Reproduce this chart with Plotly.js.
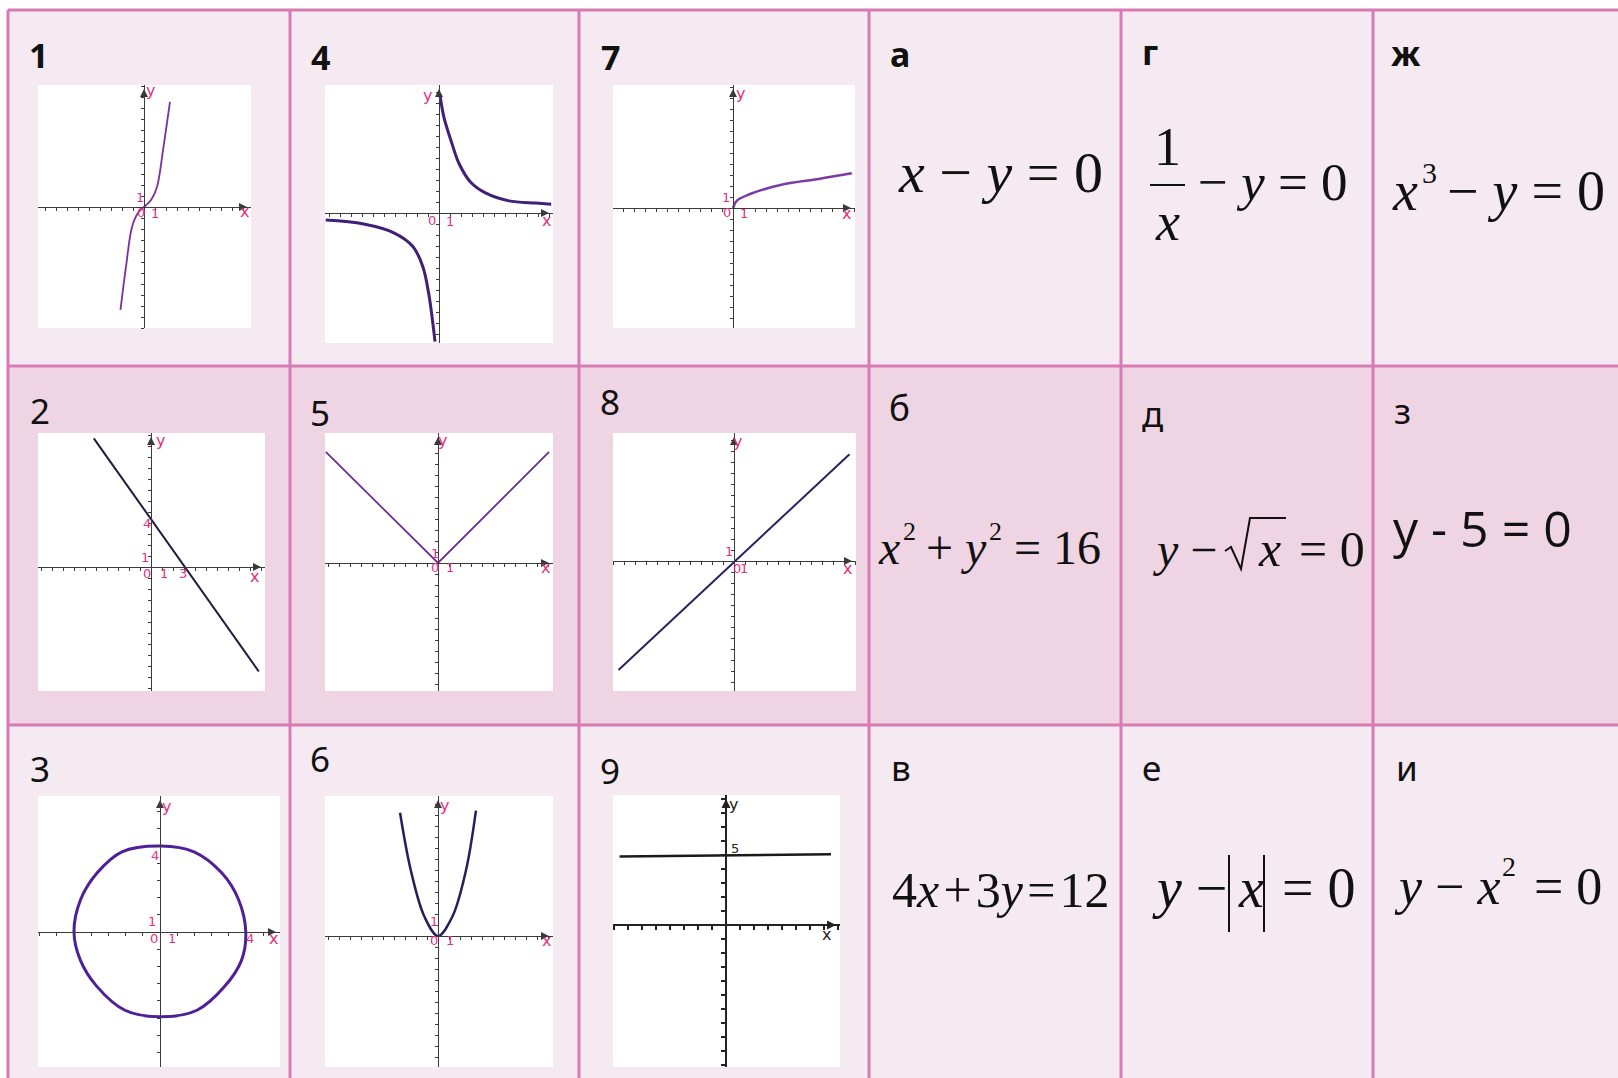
<!DOCTYPE html>
<html>
<head>
<meta charset="utf-8">
<script src="https://cdn.plot.ly/plotly-3.0.1.min.js"></script>
<style>
  html, body { margin: 0; padding: 0; background: #fff; }
  #chart { width: 1618px; height: 1078px; }
</style>
</head>
<body>
<div id="chart"></div>
<script>
const W = 1618, H = 1078;

/* Sketch data (units of each sketch) */
// 1: cubic
const g1x = [-2.14, -1.64, -1.09, -0.55, 0, 0.64, 1.18, 1.73, 2.36];
const g1y = [-9.36, -5.45, -1.82, -0.55, 0, 0.64, 1.82, 5.18, 9.55];
// 4: hyperbola, two branches
const g4ax = [0.09, 0.45, 1.15, 1.82, 2.88, 4.27, 6.36, 8.8, 10.2];
const g4ay = [10.7, 8.7, 6.4, 4.5, 2.8, 1.8, 1.1, 0.9, 0.8];
const g4bx = [-10.3, -6.85, -4.1, -2.36, -1.46, -0.94, -0.6, -0.36];
const g4by = [-0.64, -1.0, -1.8, -3.06, -4.9, -7.3, -9.7, -11.7];
// 7: square root
const g7x = [0, 0.35, 1.56, 4.7, 7.8, 10.8];
const g7y = [0, 0.67, 1.27, 2.18, 2.64, 3.15];
// 2: straight line 4x + 3y = 12
const g2x = [-5.2, 9.8];
const g2y = [11.7, -9.5];
// 5: |x|
const g5x = [-10.2, 0, 10.1];
const g5y = [10.1, 0, 10.1];
// 8: y = x
const g8x = [-10.5, 10.5];
const g8y = [-9.9, 9.7];
// 3: circle of radius 4
const g3x = [0.05, 1.58, 2.88, 3.66, 3.99, 3.79, 3.0, 1.72, 0.05, -1.63, -2.93, -3.7, -4.0, -3.7, -2.93, -1.77, 0.05];
const g3y = [4.0, 3.73, 2.74, 1.49, 0, -1.32, -2.54, -3.64, -3.94, -3.64, -2.54, -1.32, 0, 1.49, 2.74, 3.73, 4.0];
// 6: parabola
const g6x = [-3.45, -2.48, -1.23, 0, 1.3, 2.55, 3.45];
const g6y = [11.2, 6.0, 1.75, 0, 1.75, 6.0, 11.4];
// 9: y = 5
const g9x = [-7.6, 7.5];
const g9y = [4.9, 5.05];

const graphNames = ['1', '4', '7', '2', '5', '8', '3', '6', '9'];
const letterNames = ['а', 'г', 'ж', 'б', 'д', 'з', 'в', 'е', 'и'];

/* table geometry (px) */
const colEdges = [8, 290, 579, 869, 1121, 1373, 1618];
const rowEdges = [10, 366, 725, 1078];
const rowFill = ['#f6eaf2', '#efd5e3', '#f6eaf2'];
const gridColor = '#d87bb4';

const PX = x => x / W;
const PY = y => 1 - y / H;

// box [left, top, right, bottom], origin, px per unit
const frames = {
  1: {box: [38, 85, 251, 328], o: [144, 207], u: 11, dt: 1},
  4: {box: [325, 85, 553, 343], o: [439, 213], u: 11, dt: 1},
  7: {box: [613, 85, 855, 328], o: [733, 208], u: 11, dt: 1},
  2: {box: [38, 433, 265, 691], o: [151, 567], u: 11, dt: 1},
  5: {box: [325, 433, 553, 691], o: [438, 563], u: 11, dt: 1},
  8: {box: [613, 433, 856, 691], o: [734, 561], u: 11, dt: 1},
  3: {box: [38, 796, 280, 1067], o: [160, 932], u: 21.5, dt: 0.8},
  6: {box: [325, 796, 553, 1067], o: [438, 936], u: 11, dt: 1},
  9: {box: [613, 795, 840, 1067], o: [726, 925], u: 14, dt: 1, bold: true}
};

const curves = [
  {g: 1, x: g1x, y: g1y, color: '#7b2f9e', width: 1.8, shape: 'spline'},
  {g: 4, x: g4ax, y: g4ay, color: '#3f1f78', width: 3, shape: 'spline'},
  {g: 4, x: g4bx, y: g4by, color: '#3f1f78', width: 3, shape: 'spline'},
  {g: 7, x: g7x, y: g7y, color: '#7a3aa8', width: 2.5, shape: 'spline'},
  {g: 2, x: g2x, y: g2y, color: '#231a3e', width: 2, shape: 'linear'},
  {g: 5, x: g5x, y: g5y, color: '#6a3090', width: 1.8, shape: 'linear'},
  {g: 8, x: g8x, y: g8y, color: '#2b2160', width: 2, shape: 'linear'},
  {g: 3, x: g3x, y: g3y, color: '#4f1f98', width: 3, shape: 'spline'},
  {g: 6, x: g6x, y: g6y, color: '#2a1d5a', width: 2.5, shape: 'spline'},
  {g: 9, x: g9x, y: g9y, color: '#1a1a1a', width: 2.5, shape: 'linear'}
];

// little handwritten marks on the sketches
const marks = {
  1: [['y', 0.6, 10.6], ['1', -0.4, 0.9], ['1', 1.0, -0.55], ['0', -0.3, -0.5], ['x', 9.1, -0.45]],
  4: [['y', -1.05, 10.7], ['0', -0.6, -0.65], ['1', 1.0, -0.8], ['x', 9.8, -0.7]],
  7: [['y', 0.7, 10.4], ['1', -0.6, 1.0], ['0', -0.55, -0.45], ['1', 1.0, -0.5], ['x', 10.3, -0.5]],
  2: [['y', 0.9, 11.5], ['4', -0.35, 4.0], ['1', -0.55, 0.9], ['0', -0.35, -0.55], ['1', 1.2, -0.55], ['3', 2.9, -0.55], ['x', 9.4, -0.9]],
  5: [['y', 0.4, 11.1], ['1', -0.3, 0.9], ['0', -0.3, -0.45], ['1', 1.05, -0.45], ['x', 9.8, -0.45]],
  8: [['y', 0.35, 10.9], ['1', -0.5, 0.9], ['0', 0.3, -0.7], ['1', 0.9, -0.7], ['x', 10.3, -0.7]],
  3: [['y', 0.3, 5.86], ['4', -0.23, 3.58], ['1', -0.35, 0.48], ['0', -0.3, -0.28], ['1', 0.56, -0.28], ['4', 4.17, -0.28], ['x', 5.28, -0.28]],
  6: [['y', 0.55, 11.9], ['1', -0.35, 1.3], ['0', -0.35, -0.4], ['1', 1.05, -0.4], ['x', 9.9, -0.4]],
  9: [['y', 0.55, 8.6], ['5', 0.66, 5.5], ['x', 7.2, -0.7]]
};

const layout = {
  width: W, height: H,
  margin: {l: 0, r: 0, t: 0, b: 0},
  paper_bgcolor: '#ffffff',
  plot_bgcolor: 'rgba(0,0,0,0)',
  showlegend: false,
  shapes: [],
  annotations: []
};

// cell backgrounds
for (let r = 0; r < 3; r++) {
  for (let c = 0; c < 6; c++) {
    layout.shapes.push({
      type: 'rect', xref: 'paper', yref: 'paper', layer: 'below',
      x0: PX(colEdges[c]), x1: PX(colEdges[c + 1]),
      y0: PY(rowEdges[r + 1]), y1: PY(rowEdges[r]),
      fillcolor: rowFill[r], line: {width: 0}
    });
  }
}
// white sheets behind the sketches
Object.keys(frames).forEach(k => {
  const b = frames[k].box;
  layout.shapes.push({
    type: 'rect', xref: 'paper', yref: 'paper', layer: 'below',
    x0: PX(b[0]), x1: PX(b[2]), y0: PY(b[3]), y1: PY(b[1]),
    fillcolor: '#ffffff', line: {width: 0}
  });
});
// grid lines
colEdges.slice(0, 6).forEach(x => {
  layout.shapes.push({type: 'line', xref: 'paper', yref: 'paper', layer: 'below',
    x0: PX(x), x1: PX(x), y0: PY(rowEdges[0]), y1: 0,
    line: {color: gridColor, width: 3}});
});
rowEdges.slice(0, 3).forEach(y => {
  layout.shapes.push({type: 'line', xref: 'paper', yref: 'paper', layer: 'below',
    x0: PX(colEdges[0]), x1: 1, y0: PY(y), y1: PY(y),
    line: {color: gridColor, width: 3}});
});

const data = [];

// axes for each sketch
Object.keys(frames).forEach(k => {
  const f = frames[k], b = f.box, o = f.o, u = f.u;
  const id = k === '1' ? '' : k;
  const axColor = f.bold ? '#222' : '#3a3a3a';
  const common = {
    anchor: 'free', showline: true, linecolor: axColor, linewidth: f.bold ? 2 : 1,
    ticks: 'outside', ticklen: f.bold ? 4 : 3, tickwidth: f.bold ? 2 : 1, tickcolor: axColor,
    tickmode: 'linear', tick0: 0, dtick: f.dt,
    showticklabels: false, showgrid: false, zeroline: false, fixedrange: true
  };
  const xr = [(b[0] - o[0]) / u, (b[2] - o[0]) / u];
  const yr = [(o[1] - b[3]) / u, (o[1] - b[1]) / u];
  layout['xaxis' + id] = Object.assign({}, common, {
    domain: [PX(b[0]), PX(b[2])], range: xr, position: PY(o[1])
  });
  layout['yaxis' + id] = Object.assign({}, common, {
    domain: [PY(b[3]), PY(b[1])], range: yr, position: PX(o[0])
  });
  // arrow heads at the ends of both axes
  data.push({type: 'scatter', mode: 'markers', xaxis: 'x' + id, yaxis: 'y' + id,
    x: [xr[1] - 4 / u, 0], y: [0, yr[1] - 4 / u], hoverinfo: 'skip', cliponaxis: false,
    marker: {symbol: ['arrow-right', 'arrow-up'], size: f.bold ? 9 : 8, color: axColor}});
  marks[k].forEach(m => {
    const big = (m[0] === 'x' || m[0] === 'y');
    layout.annotations.push({xref: 'x' + id, yref: 'y' + id, x: m[1], y: m[2],
      text: m[0], showarrow: false, xanchor: 'center', yanchor: 'middle',
      font: {family: 'DejaVu Sans', size: big ? 16 : 13,
             color: f.bold ? '#222' : '#e6307f'}});
  });
});

curves.forEach(c => {
  const id = c.g === 1 ? '' : String(c.g);
  data.push({
    type: 'scatter', mode: 'lines', x: c.x, y: c.y,
    xaxis: 'x' + id, yaxis: 'y' + id,
    line: {color: c.color, width: c.width, shape: c.shape, smoothing: 1},
    hoverinfo: 'skip'
  });
});

// cell labels: numbers of sketches and letters of equations
const labelPos = [
  [27, 55], [309, 57], [599, 57], [888, 54], [1140, 52], [1389, 53],
  [28, 410], [308, 412], [598, 402], [887, 407], [1140, 413], [1392, 411],
  [28, 768], [308, 758], [598, 770], [889, 767], [1140, 767], [1394, 767]
];
const labelTexts = [];
for (let r = 0; r < 3; r++) {
  for (let c = 0; c < 3; c++) labelTexts.push(graphNames[r * 3 + c]);
  for (let c = 0; c < 3; c++) labelTexts.push(letterNames[r * 3 + c]);
}
labelTexts.forEach((t, i) => {
  const bold = i < 6;
  layout.annotations.push({
    xref: 'paper', yref: 'paper', x: PX(labelPos[i][0]), y: PY(labelPos[i][1]),
    xanchor: 'left', yanchor: 'middle', showarrow: false,
    text: bold ? '<b>' + t + '</b>' : t,
    font: {family: 'Noto Sans', size: bold ? 34 : 35, color: '#111'}
  });
});

// equations
const serif = 'Liberation Serif';
function eq(text, x, y, size, anchor, family) {
  layout.annotations.push({
    xref: 'paper', yref: 'paper', x: PX(x), y: PY(y),
    xanchor: anchor || 'left', yanchor: 'middle', showarrow: false,
    text: text, font: {family: family || serif, size: size, color: '#111'}
  });
}
function stroke(x0, y0, x1, y1, w) {
  layout.shapes.push({type: 'line', xref: 'paper', yref: 'paper', layer: 'above',
    x0: PX(x0), x1: PX(x1), y0: PY(y0), y1: PY(y1), line: {color: '#111', width: w}});
}
function polyline(pts, w) {
  const d = pts.map((p, i) => (i ? 'L' : 'M') + PX(p[0]) + ',' + PY(p[1])).join(' ');
  layout.shapes.push({type: 'path', xref: 'paper', yref: 'paper', layer: 'above',
    path: d, line: {color: '#111', width: w}});
}

// а
eq('<i>x</i> − <i>y</i> = 0', 896, 172, 58);
// г
eq('1', 1167, 147, 54, 'center');
stroke(1150, 185, 1185, 185, 2);
eq('<i>x</i>', 1167, 222, 54, 'center');
eq('− <i>y</i> = 0', 1196, 182, 53);
// ж
eq('<i>x</i>', 1390, 191, 56);
eq('3', 1420, 172, 30);
eq('− <i>y</i> = 0', 1445, 191, 56);
// б
eq('<i>x</i>', 876, 547, 48);
eq('2', 901, 531, 26);
eq('+ <i>y</i>', 924, 547, 48);
eq('2', 987, 531, 26);
eq('= 16', 1012, 547, 48);
// д
eq('<i>y</i> −', 1150, 549, 48);
polyline([[1225, 551], [1231, 547], [1241, 569], [1250, 518], [1286, 518]], 2);
eq('<i>x</i>', 1256, 549, 50);
eq('= 0', 1297, 549, 50);
// з
eq('у - 5 = 0', 1391, 528, 50, 'left', 'Open Sans');
// в
eq('4<i>x</i>\u200a+\u200a3<i>y</i>\u200a=\u200a12', 890, 890, 50);
// е
eq('<i>y</i> −', 1150, 888, 56);
stroke(1229, 855, 1229, 932, 2);
eq('<i>x</i>', 1236, 888, 56);
stroke(1264, 855, 1264, 932, 2);
eq('= 0', 1280, 888, 56);
// и
eq('<i>y</i> − <i>x</i>', 1392, 886, 52);
eq('2', 1500, 866, 28);
eq('= 0', 1532, 886, 52);

Plotly.newPlot('chart', data, layout, {displayModeBar: false, staticPlot: true});
</script>
</body>
</html>
